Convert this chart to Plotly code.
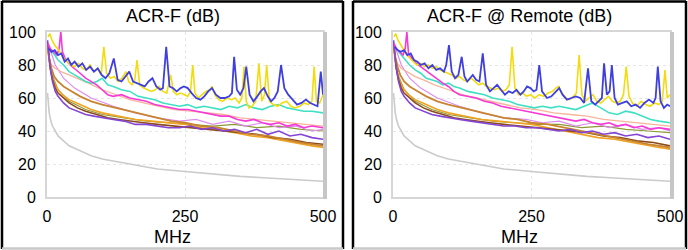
import plotly.graph_objects as go

W, H = 688, 250

# ---------------- data ----------------
TICK_X = [0, 250, 500]
TICK_Y = [0, 20, 40, 60, 80, 100]
TITLES = ["ACR-F (dB)", "ACR-F @ Remote (dB)"]
X_LABEL = "MHz"

# limit line (same on both panels)
LIM_F = [1, 2, 4, 7, 10, 15, 20, 30, 40, 60, 80, 100, 125, 150, 200, 250, 300, 350, 400, 450, 500]
LIM_V = [63, 57, 51, 46, 43, 40, 37, 34, 31, 28, 25, 23, 21.5, 20, 17, 15.5, 14, 12.5, 11.5, 10.5, 9.5]

# ---- left panel ----
LB_F = [3, 8, 14, 20, 26, 32, 38, 44, 50, 57,
        64, 71, 78, 85, 92, 99, 106, 113, 121, 128,
        135, 142, 149, 156, 163, 170, 177, 184, 191, 198,
        205, 210, 216, 222, 228, 235, 242, 248, 255, 262,
        270, 278, 285, 292, 299, 306, 314, 322, 330, 335,
        339, 344, 350, 356, 361, 367, 374, 381, 387, 393,
        400, 406, 412, 418, 424, 430, 437, 445, 453, 461,
        469, 477, 484, 490, 496, 500]
LB_V = [90, 88, 89, 86, 87, 82, 84, 80, 82, 79,
        81, 77, 79, 76, 78, 74, 72, 75, 84, 71,
        70, 73, 76, 70, 69, 68, 67, 70, 72, 67,
        65, 66, 91, 67, 66, 64, 66, 67, 66, 63,
        60, 59, 61, 64, 66, 62, 60, 60, 61, 63,
        85, 65, 62, 66, 79, 62, 58, 61, 64, 66,
        61, 58, 60, 64, 80, 66, 62, 59, 56, 57,
        59, 57, 56, 55, 76, 62]

LY_F = [2, 5, 9, 14, 19, 25, 31, 37, 43, 50,
        57, 64, 71, 78, 85, 92, 98, 103, 108, 115,
        122, 129, 136, 143, 148, 154, 159, 163, 168, 175,
        182, 189, 196, 203, 210, 217, 224, 229, 235, 242,
        249, 255, 260, 264, 268, 274, 281, 288, 295, 299,
        304, 311, 318, 326, 334, 341, 348, 353, 357, 361,
        366, 372, 378, 384, 389, 394, 398, 403, 410, 418,
        426, 434, 442, 450, 458, 466, 473, 480, 484, 488,
        494, 500]
LY_V = [97, 99, 95, 92, 90, 87, 84, 82, 80, 79,
        81, 78, 77, 80, 76, 78, 74, 91, 75, 72,
        73, 70, 72, 76, 70, 68, 71, 83, 68, 66,
        65, 64, 65, 67, 64, 63, 74, 64, 62, 63,
        62, 61, 64, 80, 63, 60, 62, 64, 65, 67,
        62, 59, 58, 60, 59, 60, 57, 60, 79, 58,
        54, 55, 58, 81, 58, 62, 80, 58, 56, 55,
        57, 58, 55, 54, 55, 57, 56, 58, 79, 58,
        57, 62]

C_F = [10, 20, 30, 40, 50, 60, 70, 80, 90, 100,
       110, 120, 135, 150, 165, 180, 195, 210, 225, 240,
       255, 270, 285, 300, 315, 330, 345, 360, 375, 390,
       405, 420, 435, 450, 465, 480, 500]
LC_V = [88, 83, 80, 76, 74, 72, 70, 69, 70, 72,
        68, 67, 65, 64, 61, 60, 59, 57, 56, 55,
        56, 54, 55, 54, 53, 55, 54, 56, 54, 53,
        55, 56, 54, 53, 52, 52, 51]

M_F = [2, 6, 12, 18, 22, 25, 28, 34, 42, 50,
       60, 70, 80, 90, 100, 110, 120, 135, 150, 165,
       180, 195, 210, 225, 240, 255, 270, 285, 300, 315,
       330, 345, 360, 375, 390, 405, 420, 435, 450, 465,
       480, 500]
LM_V = [93, 90, 88, 86, 90, 100, 88, 83, 80, 78,
        75, 72, 70, 68, 65, 62, 61, 62, 60, 59,
        58, 56, 55, 54, 53, 53, 52, 51, 50, 49,
        49, 47, 46, 47, 45, 44, 45, 43, 44, 42,
        43, 42]

S_F = [3, 8, 15, 25, 40, 55, 75, 100, 125, 150, 175, 200, 230, 260, 290, 320, 350, 380, 410, 440, 470, 500]
LS_V = [85, 80, 78, 76, 74, 72, 69, 65, 62, 59, 57, 55, 53, 52, 51, 50, 48, 47, 46, 45, 44, 43]

P_F = [1, 3, 6, 10, 15, 20, 30, 40, 55, 70,
       85, 100, 120, 140, 160, 180, 200, 220, 240, 260,
       280, 300, 320, 340, 360, 380, 400, 420, 440, 460,
       480, 500]
LP_V = [95, 88, 78, 70, 64, 61, 57, 54, 52, 50,
        49, 48, 47, 46, 44, 44, 43, 42, 42, 43,
        41, 42, 40, 41, 39, 41, 38, 40, 37, 38,
        36, 35]

N_F = [1, 4, 8, 13, 20, 30, 45, 60, 80, 100, 125, 150, 175, 200, 225, 250, 280, 310, 340, 370, 400, 430, 460, 500]
LN_V = [92, 84, 78, 73, 70, 67, 64, 61, 58, 56, 54, 52, 50, 48, 46, 45, 43, 42, 40, 38, 37, 35, 33, 31]

D_F = [1, 3, 6, 10, 15, 20, 30, 40, 55, 70, 90, 110, 130, 150, 175, 200, 230, 260, 290, 320, 350, 380, 410, 440, 470, 500]
LD_V = [93, 86, 78, 71, 66, 63, 60, 57, 54, 52, 50, 48, 47, 46, 45, 44, 43, 42, 41, 40, 39, 38, 36, 35, 33, 32]

O_F = [2, 5, 10, 18, 28, 40, 60, 80, 100, 130, 160, 190, 220, 250, 280, 310, 340, 370, 400, 430, 460, 480, 500]
LO_V = [88, 80, 72, 66, 62, 59, 56, 53, 51, 49, 47, 46, 45, 44, 42, 41, 39, 37, 36, 34, 32, 31, 30]

V_F = [5, 15, 30, 50, 80, 120, 160, 200, 240, 270, 300, 330, 360, 390, 420, 450, 480, 500]
LV_V = [90, 80, 72, 66, 60, 55, 51, 48, 46, 47, 44, 46, 43, 45, 42, 43, 40, 41]

G_F = [2, 8, 20, 40, 70, 100, 140, 180, 220, 260, 300, 340, 380, 420, 460, 500]
LG_V = [90, 75, 65, 58, 53, 50, 48, 46, 45, 44, 43, 44, 42, 43, 41, 40]

# ---- right panel ----
RB_F = [3, 8, 14, 20, 26, 32, 38, 44, 50, 57,
        64, 71, 78, 85, 92, 96, 101, 106, 112, 118,
        124, 129, 134, 139, 144, 150, 156, 162, 168, 175,
        181, 188, 195, 202, 209, 216, 223, 230, 236, 242,
        248, 254, 259, 264, 269, 278, 286, 294, 300, 306,
        314, 322, 330, 338, 345, 352, 358, 365, 372, 377,
        381, 386, 391, 395, 400, 406, 414, 422, 430, 438,
        446, 454, 462, 470, 474, 478, 483, 489, 495, 500]
RB_V = [91, 89, 88, 89, 86, 87, 83, 82, 80, 81,
        78, 80, 77, 78, 76, 80, 92, 76, 72, 74,
        85, 73, 70, 72, 74, 71, 70, 87, 68, 64,
        66, 68, 65, 62, 64, 63, 65, 62, 64, 67,
        66, 64, 65, 80, 64, 60, 61, 64, 66, 62,
        59, 60, 61, 60, 57, 78, 58, 56, 58, 60,
        81, 62, 64, 80, 60, 56, 57, 58, 55, 56,
        54, 57, 59, 57, 60, 79, 58, 54, 56, 55]

RY_F = [2, 5, 9, 14, 19, 25, 31, 37, 43, 50,
        57, 64, 71, 78, 85, 92, 99, 106, 113, 120,
        127, 134, 141, 148, 155, 162, 169, 176, 183, 190,
        197, 204, 210, 215, 220, 227, 234, 241, 248, 256,
        264, 272, 280, 288, 294, 299, 305, 312, 319, 326,
        331, 336, 341, 347, 354, 361, 368, 375, 382, 389,
        396, 403, 410, 416, 421, 426, 432, 440, 448, 456,
        464, 472, 480, 486, 491, 495, 500]
RY_V = [97, 99, 95, 92, 89, 86, 84, 82, 80, 81,
        79, 80, 78, 79, 77, 76, 75, 74, 72, 73,
        71, 70, 72, 70, 68, 69, 67, 66, 65, 66,
        64, 65, 68, 91, 66, 62, 63, 61, 62, 60,
        62, 61, 63, 64, 66, 67, 63, 60, 59, 61,
        63, 86, 62, 58, 60, 62, 58, 57, 59, 61,
        58, 57, 58, 62, 79, 61, 57, 55, 58, 56,
        55, 57, 56, 58, 77, 60, 62]

RC_V = [88, 84, 80, 77, 75, 72, 71, 70, 68, 69,
        67, 66, 64, 63, 62, 60, 59, 58, 56, 55,
        54, 55, 54, 55, 54, 53, 55, 57, 54, 51,
        50, 52, 51, 49, 47, 46, 45]
RM_V = [93, 90, 88, 86, 90, 100, 87, 84, 81, 79,
        76, 74, 71, 69, 67, 64, 62, 61, 60, 58,
        57, 55, 54, 53, 52, 51, 50, 49, 48, 47,
        46, 47, 45, 44, 45, 43, 44, 42, 43, 41,
        42, 41]
RS_V = [85, 81, 78, 76, 73, 71, 68, 65, 62, 60, 58, 56, 54, 53, 51, 50, 49, 47, 46, 45, 44, 43]
RP_V = [95, 88, 78, 70, 64, 61, 57, 54, 52, 50,
        49, 48, 47, 46, 45, 44, 43, 43, 42, 42,
        41, 40, 41, 39, 40, 38, 39, 37, 38, 36,
        37, 35]
RN_V = [92, 85, 79, 74, 70, 67, 64, 61, 58, 56, 54, 52, 50, 48, 47, 45, 44, 42, 40, 38, 36, 34, 32, 30]
RD_V = [93, 86, 78, 71, 66, 63, 60, 57, 54, 52, 50, 48, 47, 46, 45, 44, 43, 42, 41, 40, 39, 37, 36, 34, 33, 31]
RO_V = [88, 80, 72, 66, 62, 59, 56, 53, 51, 49, 47, 46, 45, 44, 42, 40, 38, 36, 35, 33, 31, 30, 29]
RV_V = [90, 80, 72, 66, 60, 55, 51, 48, 47, 45, 46, 43, 45, 42, 44, 41, 42, 40]
RG_V = [90, 75, 65, 58, 53, 50, 48, 46, 45, 44, 44, 42, 43, 41, 40, 39]

# ---------------- styles ----------------
COL = dict(lim="#cbcbcb", blue="#3f3fe0", yellow="#f2dc10", cyan="#3fe0c4",
           magenta="#f53ad6", salmon="#f6b49a", purple="#8444d4", peru="#c8842e",
           dbrown="#8c4a1e", orange="#f0a424", orchid="#dc8cf0", olive="#8c9a34")

panels = [
    dict(lim=(LIM_F, LIM_V),
         series=[("olive", G_F, LG_V, 1.2), ("orchid", V_F, LV_V, 1.2), ("salmon", S_F, LS_V, 1.3),
                 ("orange", O_F, LO_V, 1.6), ("dbrown", D_F, LD_V, 1.6), ("peru", N_F, LN_V, 1.8),
                 ("purple", P_F, LP_V, 1.6), ("cyan", C_F, LC_V, 1.6), ("magenta", M_F, LM_V, 1.6),
                 ("yellow", LY_F, LY_V, 1.6), ("blue", LB_F, LB_V, 1.8)]),
    dict(lim=(LIM_F, LIM_V),
         series=[("olive", G_F, RG_V, 1.2), ("orchid", V_F, RV_V, 1.2), ("salmon", S_F, RS_V, 1.3),
                 ("orange", O_F, RO_V, 1.6), ("dbrown", D_F, RD_V, 1.6), ("peru", N_F, RN_V, 1.8),
                 ("purple", P_F, RP_V, 1.6), ("cyan", C_F, RC_V, 1.6), ("magenta", M_F, RM_V, 1.6),
                 ("yellow", RY_F, RY_V, 1.6), ("blue", RB_F, RB_V, 1.8)]),
]

def px_x(p): return p / W
def px_y(p): return 1 - p / H

X_DOMAINS = [(47, 323), (393, 670)]
Y_DOMAIN = (197, 32)
PANEL_BOX = [(2, 343), (353, 686)]

fig = go.Figure()
FONT = "Arial, 'Liberation Sans', sans-serif"

for i, pnl in enumerate(panels):
    xa = "x" if i == 0 else "x2"
    ya = "y" if i == 0 else "y2"
    lf, lv = pnl["lim"]
    fig.add_trace(go.Scatter(x=lf, y=lv, mode="lines", xaxis=xa, yaxis=ya,
                             line=dict(color=COL["lim"], width=1.6), hoverinfo="skip"))
    for name, f, v, w in pnl["series"]:
        fig.add_trace(go.Scatter(x=f, y=v, mode="lines", xaxis=xa, yaxis=ya,
                                 line=dict(color=COL[name], width=w), hoverinfo="skip"))

axis_common = dict(showline=True, mirror=True, linecolor="#d6d6d6", linewidth=2,
                   showgrid=True, gridcolor="#e6e6e6", griddash="dot", gridwidth=1,
                   zeroline=False, ticks="", automargin=False,
                   tickfont=dict(size=16, color="black", family=FONT))

for i in range(2):
    xk = "xaxis" if i == 0 else "xaxis2"
    yk = "yaxis" if i == 0 else "yaxis2"
    x0, x1 = X_DOMAINS[i]
    fig.layout[xk] = dict(domain=[px_x(x0), px_x(x1)], range=[0, 500], tickvals=TICK_X,
                          anchor="y" if i == 0 else "y2", ticklabelstandoff=4, **axis_common)
    fig.layout[yk] = dict(domain=[px_y(Y_DOMAIN[0]), px_y(Y_DOMAIN[1])], range=[0, 100],
                          tickvals=TICK_Y, anchor="x" if i == 0 else "x2",
                          ticklabelstandoff=6, **axis_common)

shapes = []
annotations = []
for i in range(2):
    bx0, bx1 = PANEL_BOX[i]
    # panel border (black top/left/right, light gray bottom)
    for (xa0, ya0, xa1, ya1, c) in [(bx0, 1.5, bx1, 1.5, "black"), (bx0, 1, bx0, 249, "black"),
                                    (bx1, 1, bx1, 249, "black"), (bx0, 248.5, bx1, 248.5, "#c8c8c8")]:
        shapes.append(dict(type="line", xref="paper", yref="paper",
                           x0=px_x(xa0), y0=px_y(ya0), x1=px_x(xa1), y1=px_y(ya1),
                           line=dict(color=c, width=2.5)))
    # right-side shadow of plot frame
    x0, x1 = X_DOMAINS[i]
    shapes.append(dict(type="rect", xref="paper", yref="paper", layer="above",
                       x0=px_x(x1), x1=px_x(x1 + 4), y0=px_y(199), y1=px_y(32),
                       fillcolor="#c6c6c6", line=dict(width=0)))
    cx = (bx0 + bx1) / 2
    annotations.append(dict(text=TITLES[i], xref="paper", yref="paper", x=px_x(cx), y=px_y(16),
                            showarrow=False, xanchor="center", yanchor="middle",
                            font=dict(size=18, color="black", family=FONT)))
    annotations.append(dict(text=X_LABEL, xref="paper", yref="paper", x=px_x(cx), y=px_y(237),
                            showarrow=False, xanchor="center", yanchor="middle",
                            font=dict(size=18, color="black", family=FONT)))

fig.update_layout(width=W, height=H, margin=dict(l=0, r=0, t=0, b=0),
                  paper_bgcolor="white", plot_bgcolor="white", showlegend=False,
                  shapes=shapes, annotations=annotations, font=dict(family=FONT))

fig.write_html("out.html", config={"displayModeBar": False},
               post_script="document.body.style.margin='0px';document.body.style.overflow='hidden';")
